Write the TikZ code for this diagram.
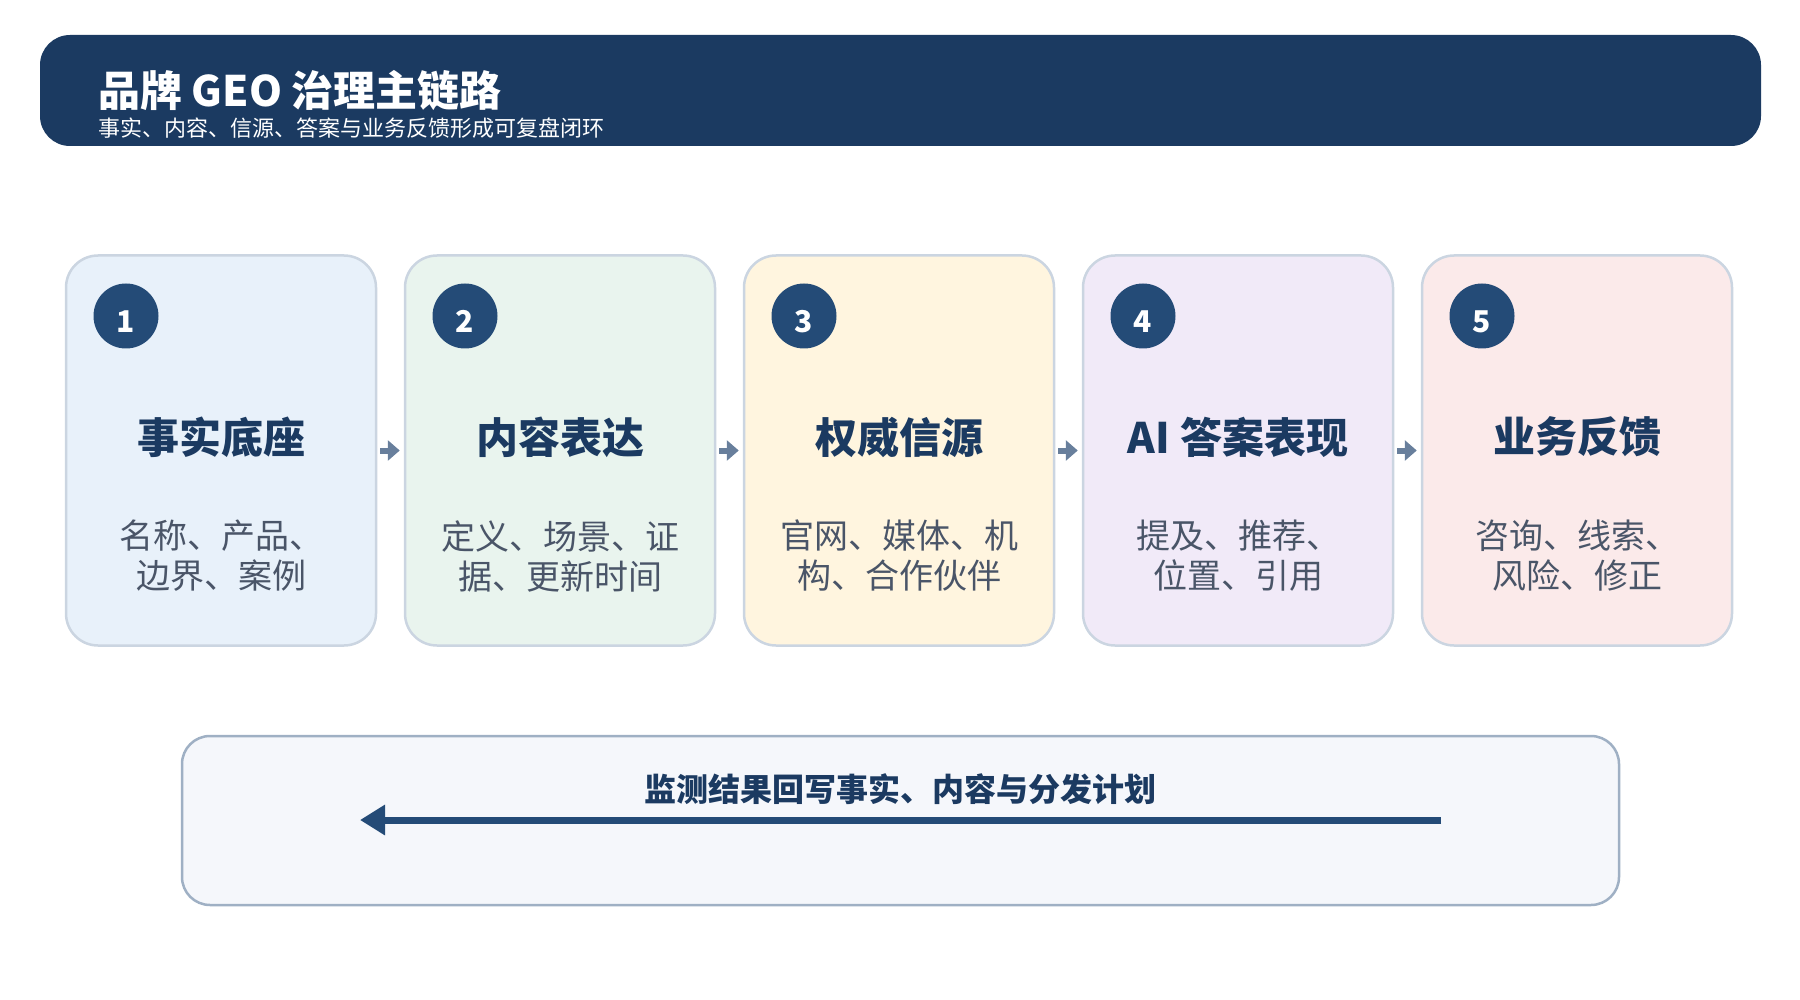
\documentclass[tikz,border=0pt]{standalone}
\usepackage{fontspec}
\setmainfont{Noto Sans CJK SC}
\usetikzlibrary{arrows.meta}
\definecolor{navy}{HTML}{1B3A61}
\definecolor{dotblue}{HTML}{244B77}
\definecolor{bodygray}{HTML}{4A5568}
\definecolor{edgegray}{HTML}{CBD5E1}
\definecolor{flowgray}{HTML}{687F9C}
\definecolor{fillA}{HTML}{E8F1FA}
\definecolor{fillB}{HTML}{E9F4EE}
\definecolor{fillC}{HTML}{FFF5DF}
\definecolor{fillD}{HTML}{F1EAF8}
\definecolor{fillE}{HTML}{FBEAEA}
\definecolor{loopfill}{HTML}{F5F7FB}
\definecolor{loopedge}{HTML}{9FB0C4}
\begin{document}
\begin{tikzpicture}[x=1pt, y=-1pt,
    card/.style={draw=edgegray, line width=2.5pt, rounded corners=32pt, minimum width=310pt, minimum height=390pt, inner sep=0pt},
    numdot/.style={circle, fill=dotblue, minimum size=65pt, inner sep=0pt, text=white, font=\fontsize{30}{30}\selectfont\bfseries, text height=34pt, text depth=0pt},
    cardtitle/.style={text=navy, font=\fontsize{42}{42}\selectfont\bfseries},
    cardbody/.style={text=bodygray, align=center, font=\fontsize{34}{40}\selectfont},
    flow/.style={draw=flowgray, line width=6pt, shorten <=3pt, shorten >=4pt, -{Triangle[length=12pt, width=20pt]}}]
    \useasboundingbox (0,0) rectangle (1800,1000);
    % header band
    \node[fill=navy, rounded corners=30pt, minimum width=1721pt, minimum height=111pt, inner sep=0pt] (head) at (900.5,90.5) {};
    \node[anchor=west, text=white, font=\fontsize{42}{42}\selectfont\bfseries, inner sep=0pt] (htitle) at (98,91) {品牌 GEO 治理主链路};
    \node[anchor=west, text=white, font=\fontsize{22}{22}\selectfont, inner sep=0pt] (hsub) at (98,128) {事实、内容、信源、答案与业务反馈形成可复盘闭环};
    % stage cards
    \node[card, fill=fillA] (c1) at (221,450.5) {};
    \node[card, fill=fillB] (c2) at (560,450.5) {};
    \node[card, fill=fillC] (c3) at (899,450.5) {};
    \node[card, fill=fillD] (c4) at (1238,450.5) {};
    \node[card, fill=fillE] (c5) at (1577,450.5) {};
    \node[numdot] (n1) at (126,316) {1};
    \node[numdot] (n2) at (465,316) {2};
    \node[numdot] (n3) at (804,316) {3};
    \node[numdot] (n4) at (1143,316) {4};
    \node[numdot] (n5) at (1482,316) {5};
    \node[cardtitle] (t1) at (221,437) {事实底座};
    \node[cardtitle] (t2) at (560,437) {内容表达};
    \node[cardtitle] (t3) at (899,437) {权威信源};
    \node[cardtitle] (t4) at (1238,437) {AI 答案表现};
    \node[cardtitle] (t5) at (1577,437) {业务反馈};
    \node[cardbody] (b1) at (221,556) {名称、产品、\\边界、案例};
    \node[cardbody] (b2) at (560,556) {定义、场景、证\\据、更新时间};
    \node[cardbody] (b3) at (899,556) {官网、媒体、机\\构、合作伙伴};
    \node[cardbody] (b4) at (1238,556) {提及、推荐、\\位置、引用};
    \node[cardbody] (b5) at (1577,556) {咨询、线索、\\风险、修正};
    \draw[flow] (c1.east) -- (c2.west);
    \draw[flow] (c2.east) -- (c3.west);
    \draw[flow] (c3.east) -- (c4.west);
    \draw[flow] (c4.east) -- (c5.west);
    % feedback loop
    \node[draw=loopedge, fill=loopfill, line width=2.5pt, rounded corners=28pt, minimum width=1437pt, minimum height=169pt, inner sep=0pt] (loop) at (900.5,820.5) {};
    \node[text=navy, font=\fontsize{32}{32}\selectfont\bfseries] (ltext) at (900.5,789) {监测结果回写事实、内容与分发计划};
    \coordinate (lfrom) at (1441,820);
    \coordinate (lto) at (360,820);
    \draw[dotblue, line width=7pt, -{Triangle[length=25pt, width=29pt]}] (lfrom) -- (lto);
\end{tikzpicture}
\end{document}
